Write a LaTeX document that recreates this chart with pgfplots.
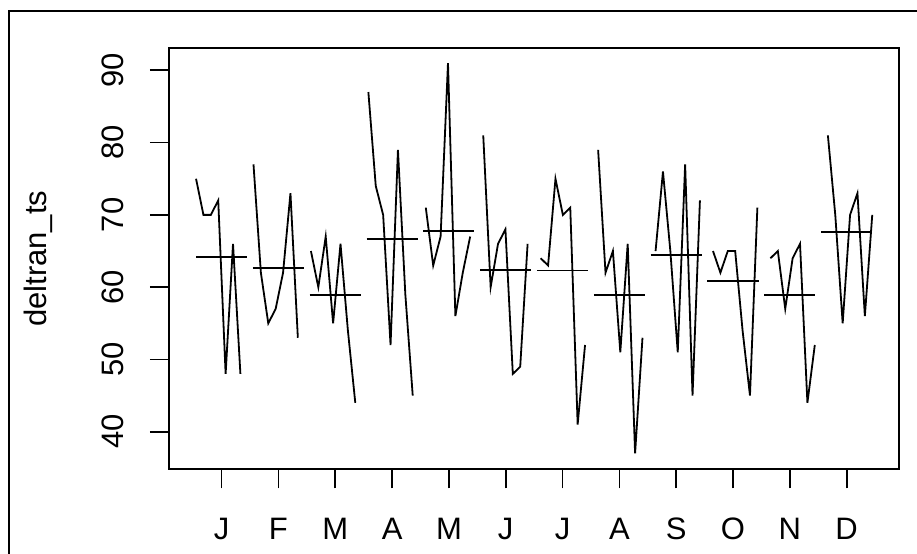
\documentclass[border=0pt]{standalone}
\usepackage{fontspec}
\setmainfont{Liberation Sans}
\usepackage{pgfplots}
\usepackage{pgfplotstable}
\pgfplotsset{compat=1.18}

% one column per month, one row per year
\pgfplotstableread{
yr Jan Feb Mar Apr May Jun Jul Aug Sep Oct Nov Dec
0  75  77  65  87  71  81  64  79  65  65  64  81
1  70  62  60  74  63  60  63  62  76  62  65  70
2  70  55  67  70  67  66  75  65  65  65  57  55
3  72  57  55  52  91  68  70  51  51  65  64  70
4  48  62  66  79  56  48  71  66  77  54  66  73
5  66  73  54  59  62  49  41  37  45  45  44  56
6  48  53  44  45  67  66  52  53  72  71  52  70
}\deltran

\begin{document}
\begin{tikzpicture}[x=1pt,y=1pt]
\useasboundingbox (0,0) rectangle (458.5,276.5);
\begin{scope}
\clip (0,0) rectangle (458.5,276.5);
\draw[line width=0.85pt] (4.65,-20) rectangle (480,271.15);
\end{scope}
\begin{axis}[
  at={(84.5pt,41.85pt)}, anchor=south west,
  width=365.15pt, height=210.5pt, scale only axis,
  xmin=0.074, xmax=12.926, ymin=34.8, ymax=93.05,
  xtick={1,...,12}, xticklabels={J,F,M,A,M,J,J,A,S,O,N,D},
  ytick={40,50,...,90},
  tick pos=left, tick align=outside, major tick length=9.5pt,
  tick style={black, line width=0.85pt},
  axis line style={line width=0.85pt},
  /pgf/number format/assume math mode=true,
  ticklabel style={font=\fontsize{15.5}{18}\selectfont, inner sep=0pt},
  xticklabel style={anchor=base},
  xticklabel shift=25.6pt,
  yticklabel style={rotate=90, anchor=base},
  yticklabel shift=13pt,
  ylabel={deltran\_ts},
  every axis y label/.style={at={(axis description cs:-0.1684,0.5)}, rotate=90, anchor=base, inner sep=0pt, font=\fontsize{15.5}{18}\selectfont},
  cycle list={{black, solid}},
  every axis plot post/.append style={black, line width=0.9pt},
  no markers,
]
\addplot table[x expr={1-0.45+0.9*(12*\thisrow{yr}+0)/83}, y=Jan] {\deltran};
\addplot table[x expr={2-0.45+0.9*(12*\thisrow{yr}+1)/83}, y=Feb] {\deltran};
\addplot table[x expr={3-0.45+0.9*(12*\thisrow{yr}+2)/83}, y=Mar] {\deltran};
\addplot table[x expr={4-0.45+0.9*(12*\thisrow{yr}+3)/83}, y=Apr] {\deltran};
\addplot table[x expr={5-0.45+0.9*(12*\thisrow{yr}+4)/83}, y=May] {\deltran};
\addplot table[x expr={6-0.45+0.9*(12*\thisrow{yr}+5)/83}, y=Jun] {\deltran};
\addplot table[x expr={7-0.45+0.9*(12*\thisrow{yr}+6)/83}, y=Jul] {\deltran};
\addplot table[x expr={8-0.45+0.9*(12*\thisrow{yr}+7)/83}, y=Aug] {\deltran};
\addplot table[x expr={9-0.45+0.9*(12*\thisrow{yr}+8)/83}, y=Sep] {\deltran};
\addplot table[x expr={10-0.45+0.9*(12*\thisrow{yr}+9)/83}, y=Oct] {\deltran};
\addplot table[x expr={11-0.45+0.9*(12*\thisrow{yr}+10)/83}, y=Nov] {\deltran};
\addplot table[x expr={12-0.45+0.9*(12*\thisrow{yr}+11)/83}, y=Dec] {\deltran};
% monthly means
\addplot[unbounded coords=jump] coordinates {
 (0.55,64.2) (1.45,64.2) (1.5,nan)
 (1.55,62.7) (2.45,62.7) (2.5,nan)
 (2.55,58.9) (3.45,58.9) (3.5,nan)
 (3.55,66.7) (4.45,66.7) (4.5,nan)
 (4.55,67.8) (5.45,67.8) (5.5,nan)
 (5.55,62.4) (6.45,62.4) (6.5,nan)
 (6.55,62.3) (7.45,62.3) (7.5,nan)
 (7.55,58.9) (8.45,58.9) (8.5,nan)
 (8.55,64.4) (9.45,64.4) (9.5,nan)
 (9.55,60.9) (10.45,60.9) (10.5,nan)
 (10.55,58.9) (11.45,58.9) (11.5,nan)
 (11.55,67.6) (12.45,67.6)
};
\end{axis}
\end{tikzpicture}
\end{document}
